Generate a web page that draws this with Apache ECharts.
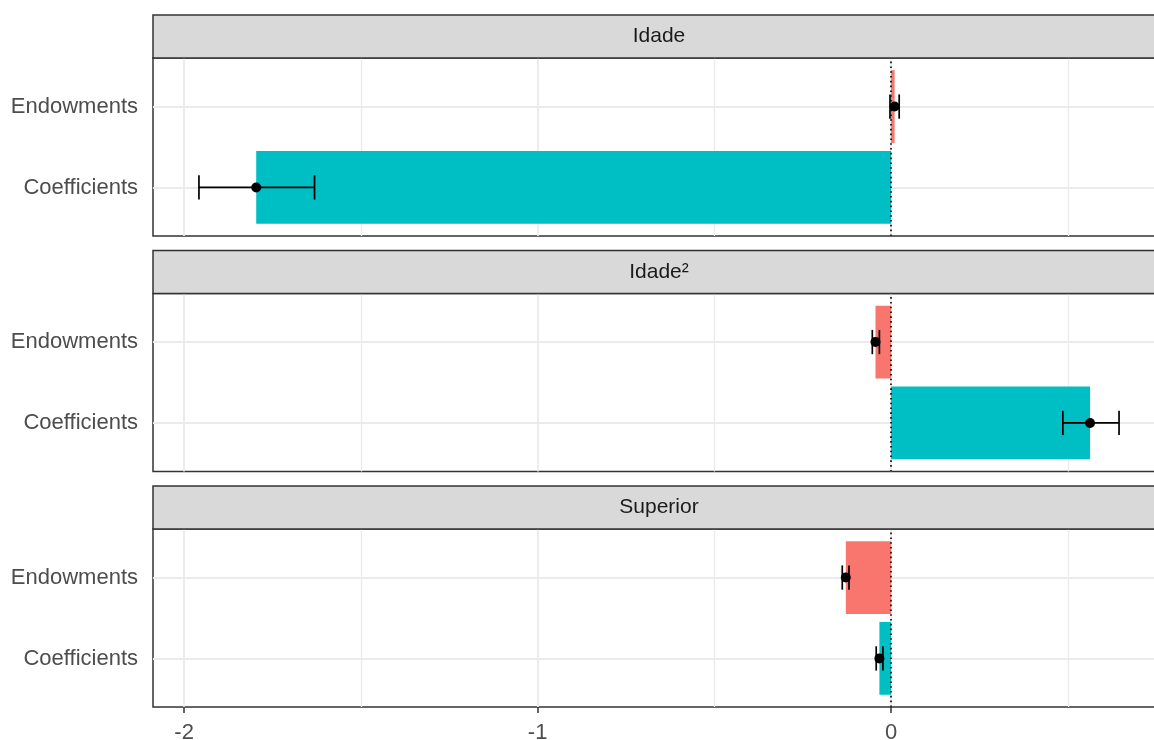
<!DOCTYPE html>
<html>
<head>
<meta charset="utf-8">
<title>Decomposição</title>
<script src="https://cdn.jsdelivr.net/npm/echarts@6/dist/echarts.min.js"></script>
<style>
  html, body { margin: 0; padding: 0; background: #ffffff; }
  #chart { width: 1154px; height: 740px; }
</style>
</head>
<body>
<div id="chart"></div>
<script>
// Facets (one panel each), categories and values
const panels = ['Idade', 'Idade²', 'Superior'];
const categories = ['Coefficients', 'Endowments'];   // y positions 1 and 2

const endowEst   = [0.010, -0.044, -0.128];
const endowLow   = [-0.003, -0.053, -0.138];
const endowHigh  = [0.023, -0.033, -0.119];

const coefEst    = [-1.796, 0.563, -0.033];
const coefLow    = [-1.958, 0.486, -0.042];
const coefHigh   = [-1.631, 0.645, -0.023];

const xTicks = [-2, -1, 0];
const xGridLines = [-2, -1.5, -1, -0.5, 0, 0.5];

// Layout
const PANEL_LEFT = 153;
const PANEL_WIDTH = 1012;
const STRIP_H = 43;
const PANEL_H = 178;
const stripTops = [15, 250.5, 486];
const X_MIN = -2.088, X_MAX = 0.775;
const FONT = '"Liberation Sans", Arial, sans-serif';
const fillColors = { Endowments: '#F8766D', Coefficients: '#00BFC4' };

const grids = [], xAxes = [], yAxes = [], series = [], graphics = [];

panels.forEach((name, i) => {
  const top = stripTops[i] + STRIP_H;
  const last = i === panels.length - 1;
  grids.push({
    left: PANEL_LEFT, top: top, width: PANEL_WIDTH, height: PANEL_H,
    outerBoundsMode: 'none', containLabel: false,
    show: true, backgroundColor: '#ffffff', borderColor: '#333333', borderWidth: 1.5
  });
  xAxes.push({
    type: 'value', gridIndex: i, min: X_MIN, max: X_MAX,
    axisLine: { show: false },
    splitLine: { show: false },
    axisTick: { show: last, customValues: xTicks, length: 6, lineStyle: { color: '#333333', width: 1.5 } },
    axisLabel: { show: last, customValues: xTicks, margin: 15, color: '#4D4D4D', fontSize: 22, fontFamily: FONT,
      formatter: v => String(v) }
  });
  yAxes.push({
    type: 'value', gridIndex: i, min: 0.4, max: 2.6,
    axisLine: { show: false },
    splitLine: { show: false },
    axisTick: { show: true, customValues: [1, 2], length: 6, lineStyle: { color: '#333333', width: 1.5 } },
    axisLabel: { customValues: [1, 2], margin: 15, color: '#4D4D4D', fontSize: 22, fontFamily: FONT,
      formatter: v => categories[Math.round(v) - 1] || '' }
  });

  // panel grid lines (major and minor)
  series.push({
    type: 'line', xAxisIndex: i, yAxisIndex: i, data: [], z: 1, silent: true,
    markLine: {
      z: 1, silent: true, symbol: ['none', 'none'], label: { show: false }, animation: false,
      data: xGridLines.map(v => ({ xAxis: v, lineStyle: { color: '#EBEBEB', width: Number.isInteger(v) ? 1.8 : 1.3, type: 'solid' } }))
        .concat([1, 2].map(v => ({ yAxis: v, lineStyle: { color: '#EBEBEB', width: 1.8, type: 'solid' } })))
    }
  });

  // bars
  series.push({
    type: 'custom', xAxisIndex: i, yAxisIndex: i, z: 2, silent: true,
    encode: { x: 0, y: 1 },
    data: [[endowEst[i], 2, 'Endowments'], [coefEst[i], 1, 'Coefficients']],
    renderItem: (params, api) => {
      const v = api.value(0), p = api.value(1);
      const a = api.coord([0, p]), b = api.coord([v, p]);
      const h = api.size([0, 0.9])[1];
      return {
        type: 'rect',
        shape: { x: Math.min(a[0], b[0]), y: a[1] - h / 2, width: Math.abs(b[0] - a[0]), height: h },
        style: { fill: fillColors[categories[p - 1]] }
      };
    }
  });

  // dotted reference line at zero
  series.push({
    type: 'line', xAxisIndex: i, yAxisIndex: i, data: [], z: 4, silent: true,
    markLine: {
      z: 4, silent: true, symbol: ['none', 'none'], label: { show: false }, animation: false,
      data: [{ xAxis: 0 }],
      lineStyle: { color: '#000000', width: 1.6, type: [1.6, 3.2] }
    }
  });

  // error bars
  series.push({
    type: 'custom', xAxisIndex: i, yAxisIndex: i, z: 6, silent: true,
    encode: { x: [0, 1], y: 2 },
    data: [[endowLow[i], endowHigh[i], 2], [coefLow[i], coefHigh[i], 1]],
    renderItem: (params, api) => {
      const p = api.value(2);
      const l = api.coord([api.value(0), p]), r = api.coord([api.value(1), p]);
      const ch = api.size([0, 0.3])[1] / 2;
      const st = { stroke: '#000000', lineWidth: 1.7 };
      return {
        type: 'group',
        children: [
          { type: 'line', shape: { x1: l[0], y1: l[1], x2: r[0], y2: r[1] }, style: st },
          { type: 'line', shape: { x1: l[0], y1: l[1] - ch, x2: l[0], y2: l[1] + ch }, style: st },
          { type: 'line', shape: { x1: r[0], y1: r[1] - ch, x2: r[0], y2: r[1] + ch }, style: st }
        ]
      };
    }
  });

  // point estimates
  series.push({
    type: 'scatter', xAxisIndex: i, yAxisIndex: i, z: 7, silent: true,
    symbol: 'circle', symbolSize: 10,
    itemStyle: { color: '#000000', opacity: 1 },
    data: [[endowEst[i], 2], [coefEst[i], 1]]
  });

  // facet strip
  graphics.push({
    type: 'rect', z: 10,
    shape: { x: PANEL_LEFT, y: stripTops[i], width: PANEL_WIDTH, height: STRIP_H },
    style: { fill: '#D9D9D9', stroke: '#333333', lineWidth: 1.5 }
  });
  graphics.push({
    type: 'text', z: 11,
    x: PANEL_LEFT + PANEL_WIDTH / 2, y: stripTops[i] + STRIP_H / 2,
    style: { text: name, fill: '#1A1A1A', font: '21px ' + FONT, align: 'center', verticalAlign: 'middle' }
  });
});

const chart = echarts.init(document.getElementById('chart'), null, { renderer: 'canvas' });
chart.setOption({
  animation: false,
  backgroundColor: '#ffffff',
  grid: grids,
  xAxis: xAxes,
  yAxis: yAxes,
  series: series,
  graphic: graphics
});
</script>
</body>
</html>
